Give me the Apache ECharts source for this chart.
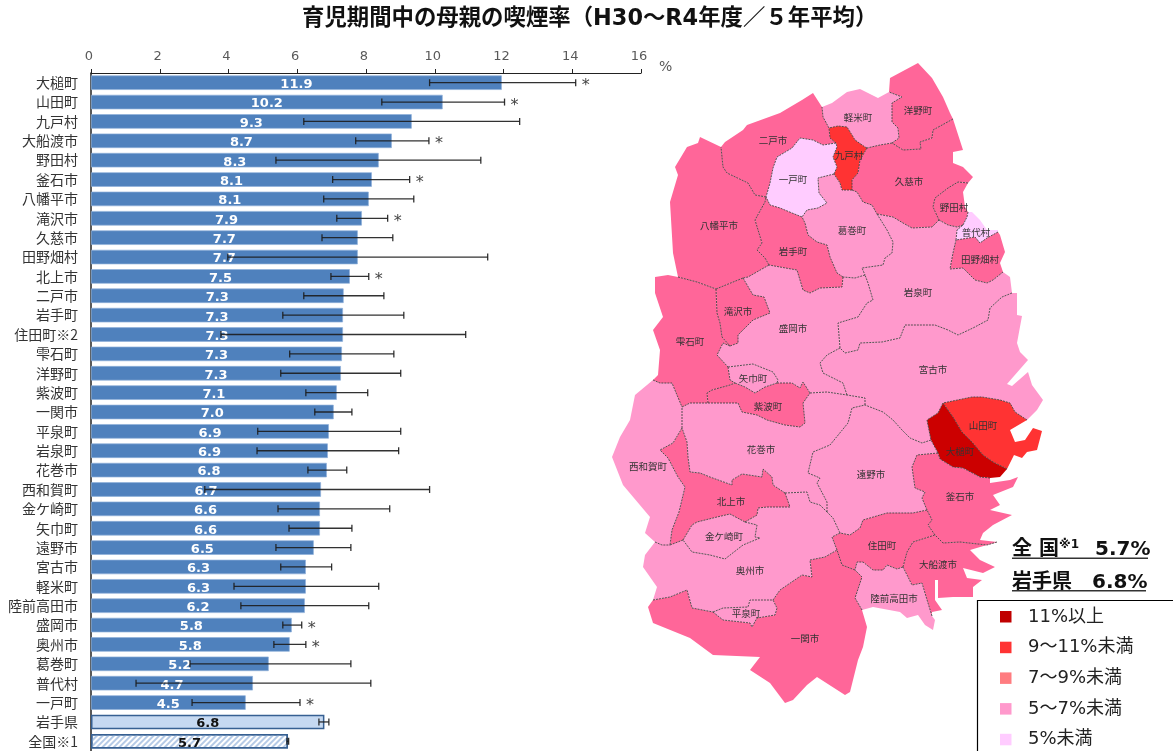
<!DOCTYPE html>
<html lang="ja"><head><meta charset="utf-8">
<style>html,body{margin:0;padding:0;background:#fff;overflow:hidden}#c{width:1173px;height:751px}</style>
<script src="https://cdn.jsdelivr.net/npm/echarts@6/dist/echarts.min.js"></script>
</head><body><div id="c"></div>
<script>
const categories = ['大槌町','山田町','九戸村','大船渡市','野田村','釜石市','八幡平市','滝沢市','久慈市','田野畑村','北上市','二戸市','岩手町','住田町※2','雫石町','洋野町','紫波町','一関市','平泉町','岩泉町','花巻市','西和賀町','金ケ崎町','矢巾町','遠野市','宮古市','軽米町','陸前高田市','盛岡市','奥州市','葛巻町','普代村','一戸町','岩手県','全国※1'];
const barLengths = [11.95,10.23,9.33,8.75,8.37,8.17,8.08,7.88,7.76,7.76,7.53,7.35,7.33,7.33,7.3,7.27,7.15,7.06,6.92,6.89,6.86,6.69,6.66,6.66,6.48,6.25,6.25,6.22,5.84,5.78,5.17,4.71,4.5,6.79,5.73];
const shownValues = ['11.9','10.2','9.3','8.7','8.3','8.1','8.1','7.9','7.7','7.7','7.5','7.3','7.3','7.3','7.3','7.3','7.1','7.0','6.9','6.9','6.8','6.7','6.6','6.6','6.5','6.3','6.3','6.2','5.8','5.8','5.2','4.7','4.5','6.8','5.7'];
const lowCI  = [9.85,8.46,6.19,7.7,5.38,7.03,6.77,7.15,6.72,3.98,6.98,6.19,5.58,3.78,5.78,5.52,6.25,6.51,4.85,4.83,6.31,3.31,5.44,5.76,5.38,5.52,4.16,4.36,5.58,5.32,2.88,1.31,2.94,6.63,5.7];
const highCI = [14.1,12.03,12.47,9.83,11.34,9.27,9.39,8.63,8.78,11.54,8.08,8.52,9.1,10.9,8.81,9.01,8.05,7.59,9.01,8.95,7.44,9.85,8.69,7.59,7.56,7.0,8.37,8.08,6.13,6.25,7.56,8.14,6.08,6.92,5.75];
const significant = [1,1,0,1,0,1,0,1,0,0,1,0,0,0,0,0,0,0,0,0,0,0,0,0,0,0,0,0,1,1,0,0,1,0,0];
const axisTicks = [0,16,2];
const legendLabels = ['11%以上','9～11%未満','7～9%未満','5～7%未満','5%未満'];
const legendColors = ['#C00000','#FF3333','#FF7C80','#FF99CC','#FFCCFF'];
const mapPieces = [{gte:11,color:'#CC0000'},{gte:9,lt:11,color:'#FF3333'},{gte:7,lt:9,color:'#FF6699'},{gte:5,lt:7,color:'#FF99CC'},{lt:5,color:'#FFCCFF'}];

const ARCS = {
hiro_coast:[[889,92],[890,78],[918,63],[932,78],[943,97],[950,113],[953,119]],
hiro_kuji:[[953,119],[933,130],[932,138],[920,142],[921,149],[903,150],[892,143]],
hiro_kar:[[892,143],[899,138],[898,128],[892,122],[892,103],[902,97],[889,92]],
kar_north:[[822,107],[832,103],[847,92],[860,89],[868,93],[878,98],[889,92]],
kar_kuji:[[892,143],[880,145],[867,148]],
kar_kun:[[867,148],[865,147],[855,140],[852,135],[847,127],[838,126],[829,128]],
nin_kar:[[829,128],[823,117],[822,107]],
kun_kuji:[[867,148],[860,160],[858,173],[852,180],[852,190]],
kun_kuz:[[852,190],[842,190],[840,183],[834,174]],
kun_ichi:[[834,174],[837,167],[833,157],[837,147],[836,143]],
kun_nin:[[836,143],[830,138],[829,128]],
nin_coast:[[721,147],[725,142],[743,130],[747,125],[780,113],[802,100],[813,93],[822,107]],
nin_ichi:[[836,143],[823,145],[813,140],[800,138],[792,148],[777,157],[773,168],[770,183],[766,197]],
nin_hachi:[[766,197],[755,195],[748,183],[727,173],[723,167],[721,147]],
ichi_kuz:[[834,174],[818,178],[819,193],[827,203],[818,208],[807,210],[802,217]],
ichi_iwate:[[802,217],[792,213],[780,208],[770,205],[766,197]],
kuz_kuji:[[852,190],[857,192],[863,202],[872,205],[877,214]],
kuz_iwai:[[877,214],[887,230],[893,242],[892,253],[885,258],[883,265],[862,268],[865,275]],
kuz_mori:[[865,275],[855,278],[843,277]],
kuz_iwate:[[843,277],[837,273],[830,257],[827,245],[817,242],[808,235],[805,223],[802,217]],
kuji_coast:[[953,119],[963,150],[953,152],[953,163],[963,167],[973,177],[968,183]],
kuji_noda:[[968,183],[958,182],[948,188],[935,198],[933,207],[939,220]],
kuji_iwai:[[939,220],[932,227],[912,228],[903,223],[893,217],[877,214]],
noda_coast:[[968,183],[963,192],[965,207],[968,212]],
noda_fudai:[[968,212],[967,217],[963,225]],
noda_iwai:[[963,225],[957,227],[948,225],[939,220]],
fudai_coast:[[968,212],[972,212],[980,220],[987,230],[998,230],[998,232]],
fudai_tano:[[998,232],[987,238],[980,243],[975,237],[956,240]],
fudai_iwai:[[956,240],[957,230],[963,225]],
tano_coast:[[998,232],[1000,235],[1005,252],[1000,263],[1003,272]],
tano_iwai:[[1003,272],[993,280],[987,283],[975,280],[967,272],[963,268],[950,269],[953,253],[956,240]],
iwai_coast:[[1003,272],[1010,277],[1012,293]],
iwai_miya:[[1012,293],[1002,297],[990,308],[988,320],[973,328],[958,335],[948,330],[935,325],[905,325],[900,338],[882,342],[860,343],[858,350],[845,353],[840,348]],
iwai_mori:[[840,348],[838,323],[858,317],[867,303],[873,300],[868,283],[865,275]],
miya_coast:[[1012,293],[1017,293],[1017,315],[1022,316],[1017,343],[1020,352],[1028,360],[1007,384],[1012,386],[1028,372],[1032,385],[1043,400],[1037,410],[1027,420]],
miya_yama:[[1027,420],[1015,412],[1010,403],[1000,400],[982,397],[972,397],[943,403]],
miya_otsu:[[943,403],[938,413],[927,420],[931,440]],
miya_tono:[[931,440],[922,443],[910,438],[902,430],[893,420],[883,412],[865,405]],
miya_hana:[[865,405],[865,398],[847,395]],
miya_mori:[[847,395],[843,383],[823,373],[820,363],[827,355],[840,348]],
yama_coast:[[1027,420],[1010,430],[1015,442],[1025,440],[1033,428],[1042,431],[1037,450],[1027,452],[1022,458],[1014,455],[1007,469]],
yama_otsu:[[1007,469],[993,462],[983,455],[972,442],[962,432],[953,417],[943,403]],
otsu_coast:[[1007,469],[1000,477],[990,478]],
otsu_kama:[[990,478],[980,477],[963,468],[953,467],[940,459],[938,453]],
otsu_tono:[[938,453],[931,440]],
tono_kama:[[938,453],[917,455],[912,467],[915,488],[925,492],[922,498],[927,510]],
tono_sumi:[[927,510],[913,513],[887,513],[863,520],[860,528],[850,535],[840,533]],
tono_oshu:[[840,533],[833,518],[827,512]],
tono_hana:[[827,512],[827,502],[817,483],[820,478],[808,473],[813,452],[830,445],[848,423],[852,408],[865,405]],
kama_coast:[[990,478],[990,483],[1010,480],[1018,477],[1013,487],[993,495],[1000,505],[990,510],[1012,515],[993,525],[983,533],[980,540],[997,542]],
kama_ofu:[[997,542],[987,545],[960,542],[943,543],[935,535]],
kama_sumi:[[935,535],[928,525],[932,520],[927,510]],
ofu_coast:[[997,542],[970,550],[980,560],[995,567],[983,573],[963,568],[967,578],[982,580],[973,587],[973,597],[953,597],[938,598],[938,580],[935,580],[935,600],[942,610],[932,612],[932,616]],
ofu_riku:[[932,616],[928,603],[922,583],[912,585],[903,567]],
ofu_sumi:[[903,567],[907,552],[913,542],[935,535]],
sumi_riku:[[903,567],[897,569],[887,565],[883,570],[873,570],[863,562],[857,562],[855,570]],
sumi_ichi:[[855,570],[842,565],[837,550]],
sumi_oshu:[[837,550],[832,537],[840,533]],
riku_coast:[[932,616],[935,620],[933,630],[925,625],[918,615],[907,618],[900,612],[873,607],[862,610]],
riku_ichi:[[862,610],[855,598],[862,577],[855,570]],
ichi_coast:[[862,610],[867,627],[863,647],[858,660],[850,692],[845,695],[817,677],[807,685],[793,700],[785,703],[770,683],[750,670],[760,657],[713,655],[690,638],[653,623],[648,607],[653,600]],
ichi_oshuA:[[653,600],[670,597],[687,590],[692,608],[713,612]],
ichi_hira:[[713,612],[723,620],[750,623],[752,627],[757,618],[775,615],[777,608],[773,600]],
ichi_oshuB:[[773,600],[780,590],[802,575],[812,577],[810,560],[825,557],[837,550]],
hira_oshu:[[713,612],[723,608],[748,607],[750,600],[773,600]],
oshu_coast:[[653,600],[657,587],[643,567],[645,555],[655,542]],
oshu_nishi:[[655,542],[662,545],[670,545]],
oshu_kitaA:[[670,545],[683,540]],
kane_kita:[[683,540],[692,525],[697,522],[717,517],[730,514],[745,522]],
oshu_kitaB:[[745,522],[757,515],[758,508],[767,507],[790,507],[785,493]],
kane_oshu:[[745,522],[757,525],[755,537],[760,538],[743,545],[725,559],[710,555],[692,552],[683,540]],
oshu_hana:[[785,493],[807,492],[810,502],[820,505],[827,512]],
kita_nishi:[[682,428],[673,443],[660,450],[668,458],[678,477],[685,487],[679,512],[672,530],[670,545]],
kita_hana:[[785,493],[773,485],[772,477],[763,469],[762,477],[742,474],[732,480],[732,485],[710,477],[700,473],[690,472],[688,457],[687,442],[682,428]],
nishi_coast:[[653,380],[635,395],[630,420],[620,437],[612,457],[623,485],[650,517],[645,533],[655,542]],
nishi_hana:[[682,428],[682,407]],
shizu_nishi:[[653,380],[660,383],[672,383],[682,407]],
shizu_hana:[[682,407],[690,403],[708,403]],
hana_shiwa:[[708,403],[738,403],[742,412],[757,415],[767,420],[785,425],[800,427],[805,423],[803,403],[810,393]],
hana_mori:[[810,393],[827,392],[847,395]],
shiwa_yaha:[[735,383],[745,387],[755,393],[765,387],[777,383]],
shiwa_mori:[[777,383],[792,383],[800,388],[803,382],[810,393]],
shiwa_shizu:[[708,403],[707,393],[712,390],[730,385],[735,383]],
yaha_mori:[[728,367],[753,364],[773,372],[778,380],[777,383]],
shizu_yaha:[[728,367],[730,380],[735,383]],
mori_hachi:[[769,265],[748,277],[743,278]],
mori_taki:[[743,278],[753,295],[764,297],[770,313],[753,320],[738,335],[738,343],[730,346]],
shizu_mori:[[730,346],[723,343],[717,355],[728,367]],
iwate_mori:[[843,277],[842,287],[820,288],[810,293],[803,290],[797,270],[780,267],[769,265]],
hachi_iwate:[[769,265],[765,258],[757,250],[762,243],[755,220],[765,202],[766,197]],
hachi_coast:[[721,147],[700,137],[698,143],[687,147],[675,167],[678,175],[670,202],[673,253],[678,277]],
hachi_shizu:[[678,277],[697,282],[716,289]],
hachi_taki:[[716,289],[743,278]],
taki_shizu:[[716,289],[717,313],[720,323],[722,337],[730,346]],
shizu_coast:[[678,277],[668,275],[655,277],[655,293],[663,317],[653,330],[660,350],[658,375],[653,380]]
};
const REGIONS = {
'洋野町':{cp:[918,110],arcs:'hiro_coast hiro_kuji hiro_kar'},
'軽米町':{cp:[858,117],arcs:'kar_north -hiro_kar kar_kuji kar_kun nin_kar'},
'九戸村':{cp:[849,155],arcs:'-kar_kun kun_kuji kun_kuz kun_ichi kun_nin'},
'二戸市':{cp:[773,140],arcs:'nin_coast -nin_kar -kun_nin nin_ichi nin_hachi'},
'一戸町':{cp:[793,179],arcs:'-nin_ichi -kun_ichi ichi_kuz ichi_iwate'},
'葛巻町':{cp:[852,230],arcs:'-ichi_kuz -kun_kuz kuz_kuji kuz_iwai kuz_mori kuz_iwate'},
'久慈市':{cp:[909,181],arcs:'-hiro_kuji kuji_coast kuji_noda kuji_iwai -kuz_kuji -kun_kuji -kar_kuji'},
'野田村':{cp:[954,207],arcs:'-kuji_noda noda_coast noda_fudai noda_iwai'},
'普代村':{cp:[976,232],arcs:'fudai_coast fudai_tano fudai_iwai -noda_fudai'},
'田野畑村':{cp:[980,259],arcs:'tano_coast tano_iwai -fudai_tano'},
'岩泉町':{cp:[918,292],arcs:'-kuz_iwai -kuji_iwai -noda_iwai -fudai_iwai -tano_iwai iwai_coast iwai_miya iwai_mori'},
'宮古市':{cp:[933,369],arcs:'-iwai_miya miya_coast miya_yama miya_otsu miya_tono miya_hana miya_mori'},
'山田町':{cp:[983,425],arcs:'-miya_yama yama_coast yama_otsu'},
'大槌町':{cp:[960,451],arcs:'-yama_otsu otsu_coast otsu_kama otsu_tono -miya_otsu'},
'遠野市':{cp:[871,474],arcs:'-miya_tono -otsu_tono tono_kama tono_sumi tono_oshu tono_hana'},
'釜石市':{cp:[960,496],arcs:'-tono_kama -otsu_kama kama_coast kama_ofu kama_sumi'},
'大船渡市':{cp:[938,564],arcs:'-kama_ofu ofu_coast ofu_riku ofu_sumi'},
'住田町':{cp:[882,545],arcs:'-tono_sumi -kama_sumi -ofu_sumi sumi_riku sumi_ichi sumi_oshu'},
'陸前高田市':{cp:[894,598],arcs:'-ofu_riku riku_coast riku_ichi -sumi_riku'},
'一関市':{cp:[805,638],arcs:'-riku_ichi ichi_coast ichi_oshuA ichi_hira ichi_oshuB -sumi_ichi'},
'平泉町':{cp:[746,613],arcs:'-ichi_hira hira_oshu'},
'奥州市':{cp:[750,570],arcs:'oshu_coast oshu_nishi oshu_kitaA -kane_oshu oshu_kitaB oshu_hana -tono_oshu -sumi_oshu -ichi_oshuB -hira_oshu -ichi_oshuA'},
'金ケ崎町':{cp:[724,536],arcs:'kane_kita kane_oshu'},
'北上市':{cp:[731,501],arcs:'kita_nishi oshu_kitaA kane_kita oshu_kitaB kita_hana'},
'西和賀町':{cp:[648,466],arcs:'nishi_coast oshu_nishi -kita_nishi nishi_hana -shizu_nishi'},
'花巻市':{cp:[761,449],arcs:'-miya_hana -tono_hana -oshu_hana kita_hana nishi_hana shizu_hana hana_shiwa hana_mori'},
'紫波町':{cp:[768,406],arcs:'shiwa_yaha shiwa_mori -hana_shiwa shiwa_shizu'},
'矢巾町':{cp:[753,378],arcs:'shiwa_yaha -yaha_mori shizu_yaha'},
'盛岡市':{cp:[793,328],arcs:'mori_hachi mori_taki shizu_mori yaha_mori shiwa_mori hana_mori miya_mori iwai_mori kuz_mori iwate_mori'},
'岩手町':{cp:[793,251],arcs:'-ichi_iwate -kuz_iwate iwate_mori hachi_iwate'},
'八幡平市':{cp:[719,225],arcs:'hachi_coast hachi_shizu hachi_taki -mori_hachi hachi_iwate nin_hachi'},
'滝沢市':{cp:[738,311],arcs:'-hachi_taki taki_shizu -mori_taki'},
'雫石町':{cp:[690,341],arcs:'shizu_coast shizu_nishi shizu_hana shiwa_shizu -shizu_yaha -shizu_mori -taki_shizu -hachi_shizu'}
};

const arcUse = {};
const toGeo = p => [p[0], -p[1]];
const features = Object.keys(REGIONS).map(name => {
  const ring = [];
  REGIONS[name].arcs.split(' ').forEach(tok => {
    const rev = tok[0] === '-', key = rev ? tok.slice(1) : tok;
    arcUse[key] = (arcUse[key] || 0) + 1;
    const pts = rev ? ARCS[key].slice().reverse() : ARCS[key];
    pts.forEach((p, i) => { if (i || !ring.length) ring.push(toGeo(p)); });
  });
  return {type:'Feature', properties:{name, cp:toGeo(REGIONS[name].cp)}, geometry:{type:'Polygon', coordinates:[ring]}};
});
echarts.registerMap('iwate', {type:'FeatureCollection', features});
const innerBorders = Object.keys(ARCS).filter(k => arcUse[k] > 1).map(k => ({coords: ARCS[k].map(toGeo)}));

const JP = '"Noto Sans CJK JP","Noto Sans",sans-serif';
const LAT = '"DejaVu Sans","Noto Sans CJK JP",sans-serif';
const barData = barLengths.map((v, i) => {
  const o = {value: v};
  if (categories[i] === '岩手県') { o.itemStyle = {color:'#C6D9F1', borderColor:'#376092', borderWidth:1.5}; o.label = {color:'#111'}; }
  if (categories[i] === '全国※1') { o.itemStyle = {color:'#fff', borderColor:'#376092', borderWidth:1.5,
    decal:{symbol:'rect', dashArrayX:[1,0], dashArrayY:[2,2], rotation:-0.785, color:'#B5CAE6'}}; o.label = {color:'#111'}; }
  return o;
});
const errData = categories.map((c, i) => [lowCI[i], highCI[i], i, significant[i]]);
const mapData = categories.map((c, i) => ({name:c.replace(/※\d/, ''), value:parseFloat(shownValues[i])})).filter(d => REGIONS[d.name]);

const graphic = [
  {type:'text', left:659, top:60, style:{text:'%', font:'14px '+LAT, fill:'#595959'}},
  {type:'text', left:1012, top:540, style:{text:'全 国', font:'bold 20px '+LAT, fill:'#111'}},
  {type:'text', left:1059, top:539, style:{text:'※1', font:'bold 12px '+LAT, fill:'#111'}},
  {type:'text', left:1095, top:540, style:{text:'5.7%', font:'bold 20px '+LAT, fill:'#111'}},
  {type:'rect', shape:{x:1012, y:557.5, width:136, height:1.5}, style:{fill:'#333'}},
  {type:'text', left:1012, top:573, style:{text:'岩手県', font:'bold 20px '+LAT, fill:'#111'}},
  {type:'text', left:1092, top:573, style:{text:'6.8%', font:'bold 20px '+LAT, fill:'#111'}},
  {type:'rect', shape:{x:1012, y:590, width:134, height:1.5}, style:{fill:'#333'}},
  {type:'rect', shape:{x:977.5, y:600.5, width:210, height:170}, style:{fill:'#fff', stroke:'#000', lineWidth:1.2}}
];
legendLabels.forEach((t, i) => {
  const y = 611 + i * 30.7;
  graphic.push({type:'rect', shape:{x:1000, y, width:11.5, height:11.5}, style:{fill:legendColors[i]}});
  graphic.push({type:'text', left:1028, top:y - 3, style:{text:t, font:'18px '+LAT, fill:'#222'}});
});

const chart = echarts.init(document.getElementById('c'), null, {renderer:'canvas'});
chart.setOption({
  animation:false,
  backgroundColor:'#fff',
  title:{text:'育児期間中の母親の喫煙率（H30～R4年度／５年平均）', left:297, top:3,
    textStyle:{fontFamily:LAT, fontWeight:'bold', fontSize:22.4, color:'#111'}},
  grid:{left:91, top:73, width:550, height:678, containLabel:false},
  xAxis:{type:'value', position:'top', min:axisTicks[0], max:axisTicks[1], interval:axisTicks[2],
    axisLine:{show:true, lineStyle:{color:'#222', width:1.2}},
    axisTick:{show:true, length:4, lineStyle:{color:'#222'}},
    splitLine:{show:false},
    axisLabel:{fontFamily:LAT, fontSize:13, color:'#595959', margin:10, padding:[0,4,0,0]}},
  yAxis:{type:'category', inverse:true, data:categories,
    axisLine:{show:true, lineStyle:{color:'#222', width:1.5}},
    axisTick:{show:false},
    axisLabel:{fontFamily:JP, fontSize:14, color:'#333', margin:13}},
  geo:{map:'iwate', aspectScale:1, left:612, top:63, width:431, height:640, roam:false, silent:true,
    itemStyle:{borderWidth:0, areaColor:'#FF99CC'},
    label:{show:true, fontFamily:JP, fontSize:9.5, color:'#333'},
    emphasis:{disabled:true}},
  visualMap:{type:'piecewise', show:false, seriesIndex:2, pieces:mapPieces},
  series:[
    {type:'bar', z:2, data:barData, barWidth:14.5, itemStyle:{color:'#4F81BD', borderColor:'#8FB0DA', borderWidth:0.7},
      label:{show:true, position:'inside', offset:[0,2], fontFamily:LAT, fontWeight:'bold', fontSize:13, color:'#fff',
        formatter:p => shownValues[p.dataIndex]}, silent:true},
    {type:'custom', z:5, silent:true, data:errData, encode:{x:[0,1], y:2},
      renderItem:(params, api) => {
        const row = api.value(2);
        const a = api.coord([api.value(0), row]), b = api.coord([api.value(1), row]);
        const st = {stroke:'#1c1c1c', lineWidth:1.3, opacity:0.9};
        const kids = [
          {type:'line', shape:{x1:a[0], y1:a[1], x2:b[0], y2:b[1]}, style:st},
          {type:'line', shape:{x1:a[0], y1:a[1]-3.5, x2:a[0], y2:a[1]+3.5}, style:st},
          {type:'line', shape:{x1:b[0], y1:b[1]-3.5, x2:b[0], y2:b[1]+3.5}, style:st}];
        if (api.value(3)) kids.push({type:'text', style:{x:b[0]+10, y:b[1]+3.5, text:'*', font:'16px '+LAT, fill:'#444', align:'center', verticalAlign:'middle'}});
        return {type:'group', children:kids};
      }},
    {type:'map', geoIndex:0, data:mapData},
    {type:'lines', coordinateSystem:'geo', polyline:true, silent:true, z:4, data:innerBorders,
      lineStyle:{color:'#444', width:0.9, type:[2,1], opacity:1}, effect:{show:false}}
  ],
  graphic
});
</script></body></html>
